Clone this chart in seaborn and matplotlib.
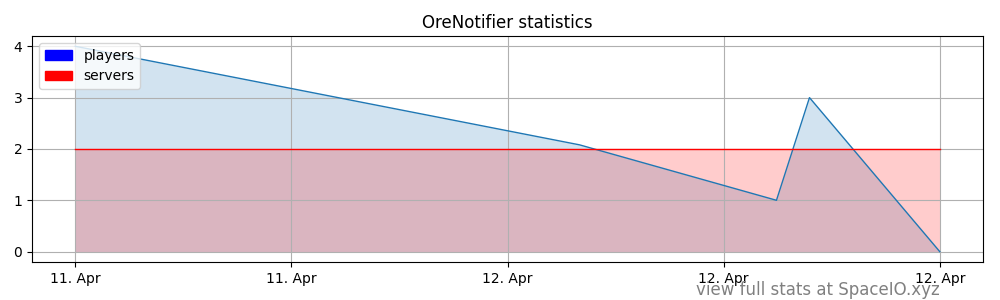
import matplotlib
matplotlib.use("Agg")
import matplotlib.pyplot as plt
import matplotlib.dates as mdates
from matplotlib.patches import Patch
import seaborn as sns
import pandas as pd
import numpy as np

times = ["2023-04-11 14:00", "2023-04-12 04:00", "2023-04-12 09:28", "2023-04-12 10:23", "2023-04-12 14:00"]
players = [4, 2.08, 1, 3, 0]
servers = [2, 2, 2, 2, 2]

df = pd.DataFrame({"time": pd.to_datetime(times), "players": players, "servers": servers})

fig, ax = plt.subplots(figsize=(10, 3), dpi=100)
fig.subplots_adjust(left=0.032, right=0.983, top=0.88, bottom=0.127)

sns.lineplot(data=df, x="time", y="players", ax=ax, color="#1f77b4", linewidth=1)
ax.fill_between(df["time"], 0, df["players"], color="#1f77b4", alpha=0.2, linewidth=0)
sns.lineplot(data=df, x="time", y="servers", ax=ax, color="red", linewidth=1)
ax.fill_between(df["time"], 0, df["servers"], color="red", alpha=0.2, linewidth=0)

t0 = mdates.date2num(df["time"].iloc[0])
t1 = mdates.date2num(df["time"].iloc[-1])
ax.set_xticks(np.linspace(t0, t1, 5))
ax.xaxis.set_major_formatter(mdates.DateFormatter("%d. %b"))
ax.set_yticks([0, 1, 2, 3, 4])
ax.set_xlabel("")
ax.set_ylabel("")
ax.grid(True, color="#b0b0b0", linewidth=0.8)
ax.set_title("OreNotifier statistics", fontsize=12)

handles = [Patch(color="blue", label="players"), Patch(color="red", label="servers")]
ax.legend(handles=handles, loc="upper left")

fig.text(0.94, 0.003, "view full stats at SpaceIO.xyz", ha="right", va="bottom", color="gray", fontsize=12)

fig.savefig("out.png")
